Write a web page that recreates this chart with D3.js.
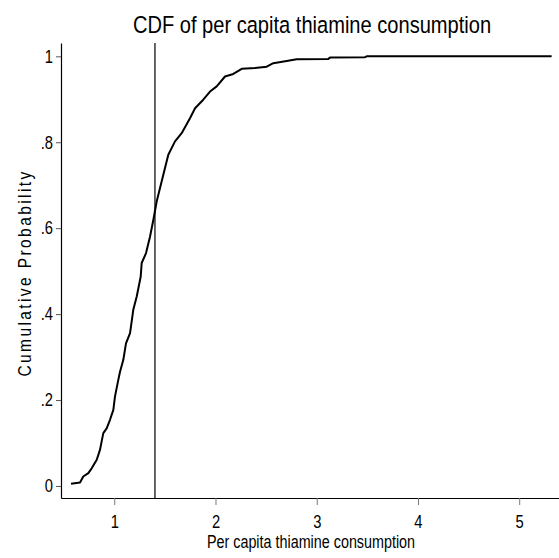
<!DOCTYPE html>
<html>
<head>
<meta charset="utf-8">
<script src="https://cdn.jsdelivr.net/npm/d3@7"></script>
<style>
  html, body { margin: 0; padding: 0; background: #fff; }
  svg { display: block; }
  text { font-family: "Liberation Sans", Arial, sans-serif; fill: #000; }
</style>
</head>
<body>
<svg id="chart" width="559" height="558"></svg>
<script>
// ---- data ----
const titleText = "CDF of per capita thiamine consumption";
const xLabel = "Per capita thiamine consumption";
const yLabel = "Cumulative Probability";

const cdfX = [0.573, 0.662, 0.694, 0.744, 0.777, 0.827, 0.859, 0.892, 0.925, 0.958,
              0.991, 1.007, 1.040, 1.057, 1.089, 1.116, 1.156, 1.188, 1.222, 1.261,
              1.271, 1.314, 1.353, 1.386, 1.419, 1.484, 1.534, 1.600, 1.666, 1.748,
              1.798, 1.879, 1.946, 2.012, 2.094, 2.176, 2.259, 2.390, 2.506, 2.571,
              2.703, 2.802, 3.114, 3.131, 3.477, 3.493, 5.320];
const cdfY = [0.005, 0.008, 0.022, 0.030, 0.041, 0.061, 0.084, 0.123, 0.134, 0.154,
              0.177, 0.208, 0.247, 0.266, 0.293, 0.332, 0.356, 0.410, 0.441, 0.487,
              0.519, 0.542, 0.580, 0.619, 0.662, 0.724, 0.771, 0.802, 0.821, 0.856,
              0.879, 0.899, 0.918, 0.930, 0.953, 0.959, 0.971, 0.973, 0.976, 0.984,
              0.989, 0.993, 0.994, 0.997, 0.998, 1.000, 1.000];

const refLineX = 1.402;

const xTicks = [1, 2, 3, 4, 5];
const xTickLabels = ["1", "2", "3", "4", "5"];
const yTicks = [0, 0.2, 0.4, 0.6, 0.8, 1];
const yTickLabels = ["0", ".2", ".4", ".6", ".8", "1"];

const xDomain = [0.474, 5.393];
const yDomain = [-0.028, 1.031];

// ---- layout ----
const svg = d3.select("#chart");
const mLeft = 61, mRight = 559, mTop = 43, mBottom = 498;
const narrow = 0.82; // horizontal squeeze to mimic a condensed face

const x = d3.scaleLinear().domain(xDomain).range([mLeft, mRight]);
const y = d3.scaleLinear().domain(yDomain).range([mBottom, mTop]);

// title
svg.append("text")
  .attr("transform", `translate(312,33) scale(${narrow},1)`)
  .attr("text-anchor", "middle")
  .style("font-size", "24.5px")
  .text(titleText);

// x axis
const xAxis = d3.axisBottom(x)
  .tickValues(xTicks)
  .tickFormat((d, i) => xTickLabels[i])
  .tickSize(7).tickPadding(0).tickSizeOuter(0);
const gx = svg.append("g").attr("transform", `translate(0,${mBottom})`).call(xAxis);
gx.select(".domain").attr("stroke", "#000").attr("stroke-width", 1.2);
gx.selectAll(".tick line").attr("stroke", "#777").attr("stroke-width", 1);
gx.selectAll(".tick text")
  .attr("y", null).attr("dy", null)
  .attr("transform", `translate(0,30) scale(${narrow},1)`)
  .style("font-size", "18px").attr("fill", "#000").attr("font-family", null);

// y axis
const yAxis = d3.axisLeft(y)
  .tickValues(yTicks)
  .tickFormat((d, i) => yTickLabels[i])
  .tickSize(5).tickPadding(0).tickSizeOuter(0);
const gy = svg.append("g").attr("transform", `translate(${mLeft},0)`).call(yAxis);
gy.select(".domain").attr("stroke", "#000").attr("stroke-width", 1.2);
gy.selectAll(".tick line").attr("stroke", "#555").attr("stroke-width", 1);
gy.selectAll(".tick text")
  .attr("x", null)
  .attr("transform", `translate(-8,0) scale(${narrow},1)`)
  .style("font-size", "18px").attr("fill", "#000").attr("font-family", null);

// axis titles
svg.append("text")
  .attr("transform", `translate(311,548) scale(${narrow},1)`)
  .attr("text-anchor", "middle")
  .style("font-size", "17.5px")
  .text(xLabel);

svg.append("text")
  .attr("transform", `translate(31,273) rotate(-90) scale(${narrow},1)`)
  .attr("text-anchor", "middle")
  .style("font-size", "19px")
  .style("letter-spacing", "2.9px")
  .text(yLabel);

// vertical reference line
svg.append("line")
  .attr("x1", x(refLineX)).attr("x2", x(refLineX))
  .attr("y1", mTop).attr("y2", mBottom)
  .attr("stroke", "#000").attr("stroke-width", 1.2);

// CDF curve
const pts = cdfX.map((v, i) => [v, cdfY[i]]);
svg.append("path")
  .datum(pts)
  .attr("fill", "none")
  .attr("stroke", "#000")
  .attr("stroke-width", 2)
  .attr("stroke-linejoin", "round")
  .attr("d", d3.line().x(d => x(d[0])).y(d => y(d[1])).curve(d3.curveLinear));
</script>
</body>
</html>
